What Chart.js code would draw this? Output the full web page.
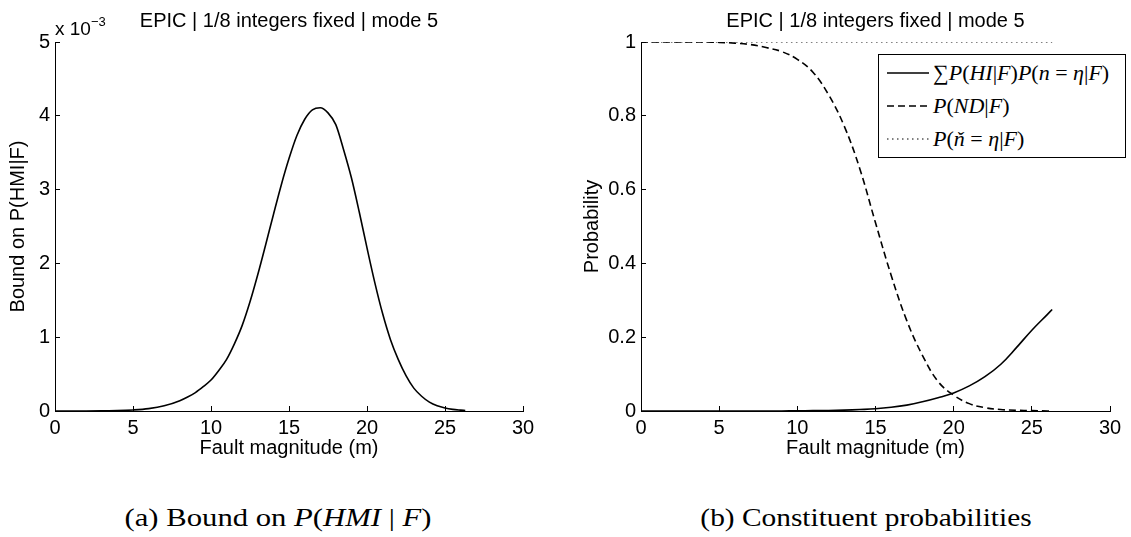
<!DOCTYPE html>
<html>
<head>
<meta charset="utf-8">
<script src="https://cdn.jsdelivr.net/npm/chart.js@4.4.1/dist/chart.umd.min.js"></script>
<style>
  html, body { margin:0; padding:0; background:#fff; }
  body { width:1131px; height:537px; overflow:hidden; position:relative; font-family:"Liberation Sans", Arial, sans-serif; color:#000; }
  #c1 { position:absolute; left:0; top:0; }
  #c2 { position:absolute; left:580px; top:0; }
  #expo { position:absolute; left:55px; top:19px; font-size:19px; line-height:20px; white-space:nowrap; }
  #expo sup { font-size:13px; vertical-align:9px; line-height:0; }
  #legend { position:absolute; left:878px; top:54px; width:248px; height:104px; box-sizing:border-box; border:1px solid #000; background:#fff; }
  #legend .row { position:absolute; left:8px; height:30px; display:flex; align-items:center; white-space:nowrap; }
  #legend svg { display:block; margin-right:4px; }
  #legend .lab { font-family:"Liberation Serif", "Times New Roman", serif; font-size:22px; }
  .cap { position:absolute; top:503px; line-height:30px; font-family:"Liberation Serif", "Times New Roman", serif; font-size:26px; white-space:nowrap; transform-origin:50% 50%; }
  i { font-style:italic; }
</style>
</head>
<body>
<canvas id="c1" width="578" height="480"></canvas>
<canvas id="c2" width="591" height="480"></canvas>
<div id="expo">x 10<sup>−3</sup></div>
<div id="legend"></div>
<div class="cap" id="capA" style="left:278px; transform:translateX(-50%) scaleX(1.18)">(a) Bound on <i>P</i>(<i>HMI</i> | <i>F</i>)</div>
<div class="cap" id="capB" style="left:866px; transform:translateX(-50%) scaleX(1.13)">(b) Constituent probabilities</div>
<script>
// ---------------- data ----------------
const chartTitle = 'EPIC | 1/8 integers fixed | mode 5';
const xAxisTitle = 'Fault magnitude (m)';
const xTicks = [0, 5, 10, 15, 20, 25, 30];

// (a) bound on P(HMI|F)  (in units of 1)
const faultMagLeft = [0,1,2,3,4,5,6,7,8,8.5,9,9.5,10,10.5,11,11.5,12,12.5,13,13.5,14,14.5,15,15.5,16,16.5,17,17.5,18,18.5,19,19.5,20,20.5,21,21.5,22,22.5,23,23.5,24,24.5,25,25.5,26,26.3];
const hmiBound = [0,0,0.0000005,0.000002,0.000005,0.000014,0.000032,0.00007,0.00014,0.00019,0.00025,0.00033,0.00042,0.00055,0.0007,0.00091,0.00116,0.00148,0.00185,0.00225,0.00266,0.00306,0.00342,0.00373,0.00395,0.00408,0.00411,0.00404,0.00388,0.00354,0.00316,0.0027,0.00221,0.00174,0.00132,0.00097,0.0007,0.00048,0.00031,0.0002,0.00012,0.00007,0.00004,0.000022,0.000012,0.000007];
const leftYTicks = [0, 0.001, 0.002, 0.003, 0.004, 0.005];
const leftYTickLabels = ['0', '1', '2', '3', '4', '5'];

// (b) constituent probabilities
const faultMagRight = [0,1,2,3,4,5,6,7,8,9,10,11,12,13,14,15,16,17,18,19,20,21,22,23,24,25,26,26.3];
const hiSum = [0,0,0,0,0,0,0,0,0,0,0.0005,0.001,0.0015,0.0025,0.004,0.006,0.01,0.016,0.025,0.036,0.049,0.068,0.093,0.126,0.171,0.219,0.262,0.275];
const noDetect = [1,1,1,1,1,0.999,0.997,0.993,0.985,0.974,0.953,0.918,0.857,0.772,0.656,0.51,0.368,0.245,0.151,0.08,0.043,0.02,0.009,0.004,0.002,0.001,0,0];
const nCheck = [1,1,1,1,1,1,1,1,1,1,1,1,1,1,1,1,1,1,1,1,1,1,1,1,1,1,1,1];
const rightYTicks = [0, 0.2, 0.4, 0.6, 0.8, 1];
const rightYTickLabels = ['0', '0.2', '0.4', '0.6', '0.8', '1'];

const seriesLabels = ['∑P(HI|F)P(n=η|F)', 'P(ND|F)', 'P(ň=η|F)'];
const seriesLegendHtml = [
  '∑<i>P</i>(<i>HI</i>|<i>F</i>)<i>P</i>(<i>n</i> = <i>η</i>|<i>F</i>)',
  '<i>P</i>(<i>ND</i>|<i>F</i>)',
  '<i>P</i>(<i>ň</i> = <i>η</i>|<i>F</i>)'
];
const seriesDash = [[], [7, 4], [1.5, 3.5]];
const seriesWidth = [1.6, 1.6, 1];
const seriesValues = [hiSum, noDetect, nCheck];

// ---------------- helpers ----------------
const FONT = '"Liberation Sans", Arial, sans-serif';
const pts = (xs, ys) => xs.map((x, i) => ({ x: x, y: ys[i] }));

// title centred over the plot area (as MATLAB does)
const centeredTitle = {
  id: 'centeredTitle',
  afterDraw(chart, args, opts) {
    const { ctx, chartArea } = chart;
    ctx.save();
    ctx.font = '20px ' + FONT;
    ctx.fillStyle = '#000';
    ctx.textAlign = 'center';
    ctx.textBaseline = 'alphabetic';
    ctx.fillText(opts.text, (chartArea.left + chartArea.right) / 2, opts.baseline);
    ctx.restore();
  }
};

function xScale() {
  return {
    type: 'linear', min: 0, max: 30,
    afterBuildTicks: s => { s.ticks = xTicks.map(v => ({ value: v })); },
    afterFit: s => { s.height = 69; },
    ticks: { color: '#000', font: { family: FONT, size: 20 }, padding: 10, maxRotation: 0, autoSkip: false,
             callback: v => String(v) },
    grid: { drawOnChartArea: false, drawTicks: true, tickLength: -5, color: '#000', lineWidth: 1 },
    border: { display: true, color: '#000', width: 1 },
    title: { display: true, text: xAxisTitle, color: '#000', font: { family: FONT, size: 20 }, padding: { top: 0, bottom: 20 } }
  };
}
function yScale(max, ticks, labels, width, titleText, titlePad) {
  return {
    type: 'linear', min: 0, max: max,
    afterBuildTicks: s => { s.ticks = ticks.map(v => ({ value: v })); },
    afterFit: s => { s.width = width; },
    ticks: { color: '#000', font: { family: FONT, size: 20 }, padding: 10, autoSkip: false,
             callback: (v, i) => labels[i] },
    grid: { drawOnChartArea: false, drawTicks: true, tickLength: -5, color: '#000', lineWidth: 1 },
    border: { display: true, color: '#000', width: 1 },
    title: { display: true, text: titleText, color: '#000', font: { family: FONT, size: 20 }, padding: { top: titlePad, bottom: 0 } }
  };
}

// ---------------- chart (a) ----------------
new Chart(document.getElementById('c1'), {
  type: 'line',
  data: { datasets: [{ label: 'Bound on P(HMI|F)', data: pts(faultMagLeft, hmiBound), borderColor: '#000', borderWidth: 1.6,
                       pointRadius: 0, fill: false, cubicInterpolationMode: 'monotone' }] },
  options: {
    responsive: false, animation: false, devicePixelRatio: 1,
    layout: { padding: { left: 0, right: 55, top: 42, bottom: 0 } },
    plugins: { legend: { display: false }, tooltip: { enabled: false }, title: { display: false },
               centeredTitle: { text: chartTitle, baseline: 27 } },
    scales: { x: xScale(), y: yScale(0.005, leftYTicks, leftYTickLabels, 55, 'Bound on P(HMI|F)', 6.5) }
  },
  plugins: [centeredTitle]
});

// ---------------- chart (b) ----------------
const chartB = new Chart(document.getElementById('c2'), {
  type: 'line',
  data: { datasets: seriesValues.map((vals, k) => ({
    label: seriesLabels[k], data: pts(faultMagRight, vals), borderColor: '#000', borderWidth: seriesWidth[k],
    borderDash: seriesDash[k], pointRadius: 0, fill: false, tension: 0.4
  })) },
  options: {
    responsive: false, animation: false, devicePixelRatio: 1,
    layout: { padding: { left: 0, right: 61, top: 42, bottom: 0 } },
    plugins: { legend: { display: false }, tooltip: { enabled: false }, title: { display: false },
               centeredTitle: { text: chartTitle, baseline: 27 } },
    scales: { x: xScale(), y: yScale(1, rightYTicks, rightYTickLabels, 61, 'Probability', 0) }
  },
  plugins: [centeredTitle]
});

// ---------------- HTML legend from the datasets ----------------
const legend = document.getElementById('legend');
const rowCenters = [18, 51, 84];
chartB.data.datasets.forEach((ds, k) => {
  const row = document.createElement('div');
  row.className = 'row';
  row.style.top = (rowCenters[k] - 15) + 'px';
  const dash = (ds.borderDash || []).join(' ');
  row.innerHTML = '<svg width="42" height="10"><line x1="0" y1="5" x2="42" y2="5" stroke="#000" stroke-width="' + ds.borderWidth + '"' +
    (dash ? ' stroke-dasharray="' + dash + '"' : '') + '/></svg><span class="lab">' + seriesLegendHtml[k] + '</span>';
  legend.appendChild(row);
});
</script>
</body>
</html>
